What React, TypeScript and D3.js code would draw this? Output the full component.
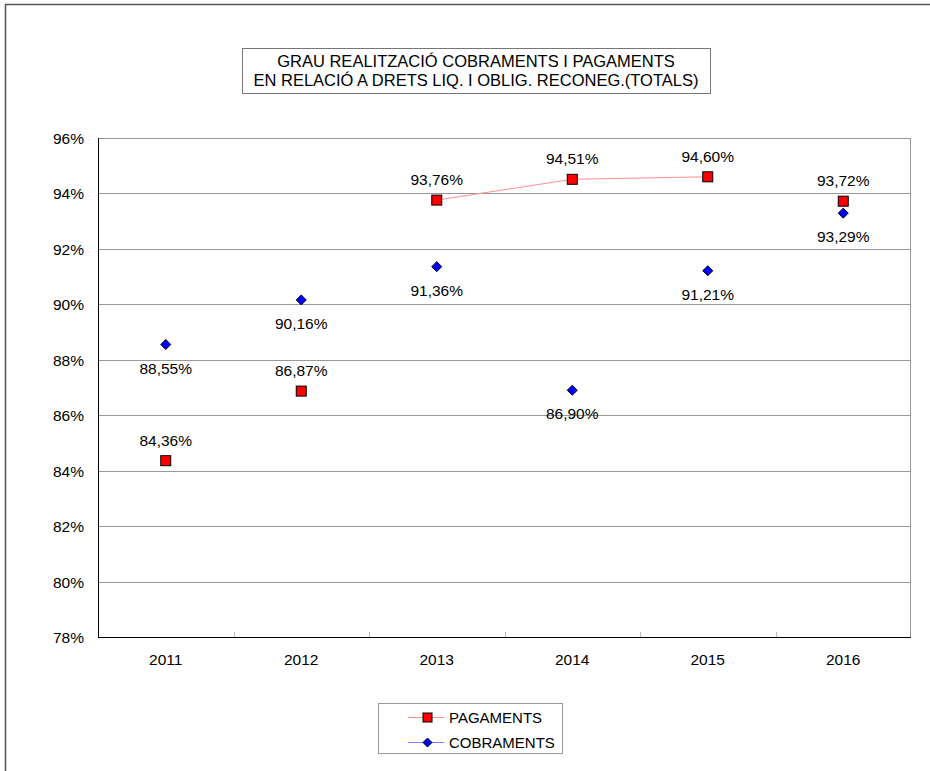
import React from "react";
import * as d3 from "d3";

const years = ["2011", "2012", "2013", "2014", "2015", "2016"];
const pagaments = [84.36, 86.87, 93.76, 94.51, 94.6, 93.72];
const cobraments = [88.55, 90.16, 91.36, 86.9, 91.21, 93.29];
const yTicks = [78, 80, 82, 84, 86, 88, 90, 92, 94, 96];
const pagLineYears = ["2013", "2014", "2015"];
const titleLines = [
  "GRAU REALITZACIÓ COBRAMENTS I PAGAMENTS",
  "EN RELACIÓ A DRETS LIQ. I OBLIG. RECONEG.(TOTALS)",
];
const legendItems = ["PAGAMENTS", "COBRAMENTS"];

const FONT = "'Liberation Sans', Arial, sans-serif";
const fmt = (v: number) => v.toFixed(2).replace(".", ",") + "%";

export default function App() {
  const left = 98, right = 911, top = 138, bottom = 637;
  const x = d3.scaleBand<string>().domain(years).range([left, right]);
  const y = d3.scaleLinear().domain([78, 96]).range([bottom, top]);
  const cx = (yr: string) => (x(yr) as number) + x.bandwidth() / 2;

  const pagLine = d3
    .line<string>()
    .x((d) => cx(d))
    .y((d) => y(pagaments[years.indexOf(d)]));

  const diamond = (px: number, py: number, r: number) =>
    `M${px},${py - r}L${px + r},${py}L${px},${py + r}L${px - r},${py}Z`;

  return (
    <svg
      width={930}
      height={771}
      style={{ position: "absolute", left: 0, top: 0, background: "#fff" }}
      fontFamily={FONT}
    >
      <rect x={0} y={0} width={930} height={771} fill="#fff" />
      {/* outer chart border */}
      <path d="M5.5,780V4.5H940" fill="none" stroke="#555" strokeWidth={1.5} />

      {/* title */}
      <rect x={242.5} y={48.5} width={468} height={45} fill="#fff" stroke="#777" />
      {titleLines.map((t, i) => (
        <text key={t} x={476} y={67 + i * 19} textAnchor="middle" fontSize={16.5} fill="#000">
          {t}
        </text>
      ))}

      {/* gridlines */}
      {yTicks.map((t) => (
        <line key={t} x1={left} x2={right} y1={Math.round(y(t)) + 0.5} y2={Math.round(y(t)) + 0.5} stroke="#999" />
      ))}
      <line x1={right - 0.5} x2={right - 0.5} y1={top} y2={bottom} stroke="#999" />

      {/* category ticks */}
      {years.map((yr) => (
        <line
          key={"t" + yr}
          x1={Math.round(x(yr) as number) + 0.5}
          x2={Math.round(x(yr) as number) + 0.5}
          y1={bottom - 5}
          y2={bottom}
          stroke="#bbb"
        />
      ))}

      {/* axes */}
      <line x1={left + 0.5} x2={left + 0.5} y1={top} y2={bottom + 0.5} stroke="#000" />
      <line x1={left} x2={right} y1={bottom + 0.5} y2={bottom + 0.5} stroke="#000" />

      {/* y labels */}
      {yTicks.map((t) => (
        <text key={"l" + t} x={84} y={y(t) + 6} textAnchor="end" fontSize={15.5} fill="#000">
          {t}%
        </text>
      ))}
      {/* x labels */}
      {years.map((yr) => (
        <text key={"x" + yr} x={cx(yr)} y={665} textAnchor="middle" fontSize={15.5} fill="#000">
          {yr}
        </text>
      ))}

      {/* pagaments line */}
      <path d={pagLine(pagLineYears) || ""} fill="none" stroke="#ff9090" strokeWidth={1} />

      {/* cobraments markers */}
      {years.map((yr, i) => (
        <path
          key={"c" + yr}
          d={diamond(cx(yr), y(cobraments[i]), 5)}
          fill="#0000ff"
          stroke="#000"
          strokeWidth={1}
        />
      ))}
      {/* pagaments markers */}
      {years.map((yr, i) => (
        <rect
          key={"p" + yr}
          x={cx(yr) - 5}
          y={y(pagaments[i]) - 5}
          width={10}
          height={10}
          fill="#ff0000"
          stroke="#000"
          strokeWidth={1}
        />
      ))}

      {/* labels */}
      {years.map((yr, i) => (
        <text key={"pl" + yr} x={cx(yr)} y={y(pagaments[i]) - 15} textAnchor="middle" fontSize={15.5} fill="#000">
          {fmt(pagaments[i])}
        </text>
      ))}
      {years.map((yr, i) => (
        <text key={"cl" + yr} x={cx(yr)} y={y(cobraments[i]) + 29} textAnchor="middle" fontSize={15.5} fill="#000">
          {fmt(cobraments[i])}
        </text>
      ))}

      {/* legend */}
      <rect x={378.5} y={703.5} width={184} height={50} fill="#fff" stroke="#999" />
      {legendItems.map((name, i) => {
        const ly = 717 + i * 25;
        const color = i === 0 ? "#ff9090" : "#8080ff";
        return (
          <g key={name}>
            <line x1={408} x2={444} y1={ly + 0.5} y2={ly + 0.5} stroke={color} />
            {i === 0 ? (
              <rect x={423} y={ly - 4} width={9} height={9} fill="#ff0000" stroke="#000" />
            ) : (
              <path d={diamond(427.5, ly + 0.5, 4.5)} fill="#0000ff" stroke="#000" />
            )}
            <text x={449} y={ly + 6} fontSize={15} fill="#000">
              {name}
            </text>
          </g>
        );
      })}
    </svg>
  );
}
